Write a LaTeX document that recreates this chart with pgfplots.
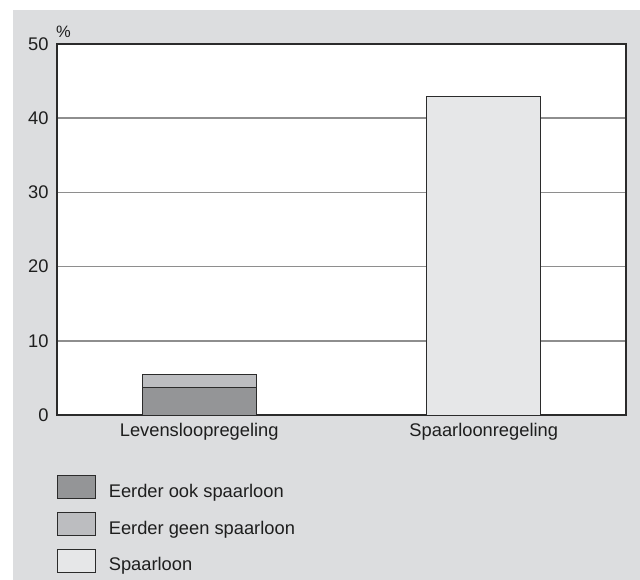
\documentclass[border=0pt]{standalone}
\usepackage{fontspec}
\setmainfont{Liberation Sans}
\usepackage{pgfplots}
\pgfplotsset{compat=1.18}
\definecolor{bg}{HTML}{DCDDDF}
\definecolor{darkbar}{HTML}{949597}
\definecolor{midbar}{HTML}{BCBDC0}
\definecolor{lightbar}{HTML}{E6E7E8}
\definecolor{gridc}{HTML}{8E8E8E}
\definecolor{edge}{HTML}{2B2B2B}
\definecolor{txt}{HTML}{1E1E1E}
\begin{document}
\begin{tikzpicture}
\fill[white] (0bp,0bp) rectangle (640bp,580bp);
\fill[bg] (13bp,0bp) rectangle (640bp,570bp);
\begin{axis}[
  at={(57bp,165bp)}, anchor=south west,
  scale only axis, width=569bp, height=371bp,
  ybar stacked, bar width=114bp,
  xmin=-0.5, xmax=1.5, ymin=0, ymax=50,
  xtick={0,1}, xticklabels={Levensloopregeling,Spaarloonregeling},
  ytick={0,10,20,30,40,50},
  ymajorgrids, grid style={gridc, line width=1.5bp},
  major tick length=0pt,
  axis line style={edge, line width=1.3bp},
  axis background/.style={fill=white},
  tick label style={font=\fontsize{18.3bp}{21bp}\selectfont, text=txt},
  /pgf/number format/assume math mode=true,
  yticklabel style={xshift=-5bp},
  xticklabel style={yshift=-5bp},
  legend style={at={(0,-0.161)}, anchor=north west, draw=none, fill=none,
    inner sep=0pt, outer sep=0pt, row sep=13bp,
    nodes={inner sep=0pt, font=\fontsize{18.3bp}{21bp}\selectfont, text=txt, anchor=base west},
    /tikz/every odd column/.append style={column sep=13bp}},
  legend cell align=left,
  legend image code/.code={\draw[#1, draw=edge, line width=0.8bp] (0bp,-1bp) rectangle (38bp,22bp);},
  clip=false,
]
\addplot[fill=darkbar, draw=edge, line width=0.8bp] coordinates {(0,3.7) (1,0)};
\addlegendentry{Eerder ook spaarloon}
\addplot[fill=midbar, draw=edge, line width=0.8bp] coordinates {(0,1.8) (1,0)};
\addlegendentry{Eerder geen spaarloon}
\addplot[fill=lightbar, draw=edge, line width=0.8bp] coordinates {(0,0) (1,43)};
\addlegendentry{Spaarloon}
\node[anchor=south west, inner sep=0pt, font=\fontsize{16.5bp}{18bp}\selectfont, text=txt, xshift=-1bp, yshift=6bp] at (axis description cs:0,1) {\%};
\end{axis}
\end{tikzpicture}
\end{document}
